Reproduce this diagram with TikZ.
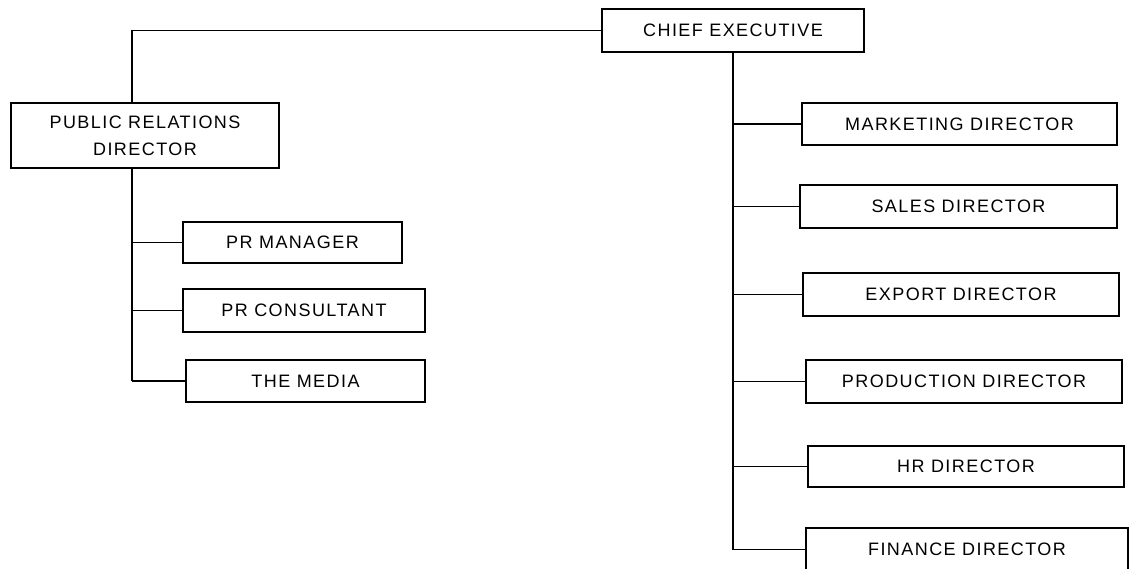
\documentclass[tikz,border=0pt]{standalone}
\usepackage{fontspec}
\setmainfont{Liberation Sans}[LetterSpace=8]
\begin{document}
\begin{tikzpicture}[x=0.025cm,y=-0.025cm,line width=1.4pt,
  post/.style={draw,rectangle,inner sep=0pt,font=\fontsize{12.8}{19}\selectfont,align=center}]
\useasboundingbox (0,0) rectangle (1129,569);
\node[post,minimum width=262*0.025cm,minimum height=43*0.025cm] (ce) at (733,30.5) {CHIEF EXECUTIVE};
\node[post,minimum width=268*0.025cm,minimum height=65*0.025cm] (prd) at (145,135.5) {PUBLIC RELATIONS\\DIRECTOR};
\node[post,minimum width=219*0.025cm,minimum height=41*0.025cm] (prm) at (292.5,242.5) {PR MANAGER};
\node[post,minimum width=242*0.025cm,minimum height=43*0.025cm] (prc) at (304,310.5) {PR CONSULTANT};
\node[post,minimum width=239*0.025cm,minimum height=42*0.025cm] (med) at (305.5,381) {THE MEDIA};
\node[post,minimum width=315*0.025cm,minimum height=42*0.025cm] (mkt) at (959.5,124) {MARKETING DIRECTOR};
\node[post,minimum width=317*0.025cm,minimum height=43*0.025cm] (sal) at (958.5,206.5) {SALES DIRECTOR};
\node[post,minimum width=316*0.025cm,minimum height=43*0.025cm] (exp) at (961,294.5) {EXPORT DIRECTOR};
\node[post,minimum width=316*0.025cm,minimum height=43*0.025cm] (pro) at (964,381.5) {PRODUCTION DIRECTOR};
\node[post,minimum width=316*0.025cm,minimum height=41*0.025cm] (hr) at (966,466.5) {HR DIRECTOR};
\node[post,minimum width=322*0.025cm,minimum height=43*0.025cm] (fin) at (967,549.5) {FINANCE DIRECTOR};
\coordinate (lt) at (132,0);
% chief executive to public relations
\draw (ce.west) -- (ce.west -| lt) -- (prd.north -| lt);
% public relations team
\draw (prd.south -| lt) -- (med.west -| lt);
\foreach \n in {prm,prc,med}
  \draw (\n.west -| lt) -- (\n.west);
% directors
\draw (ce.south) -- (fin.west -| ce.south);
\foreach \n in {mkt,sal,exp,pro,hr,fin}
  \draw (\n.west -| ce.south) -- (\n.west);
\end{tikzpicture}
\end{document}
